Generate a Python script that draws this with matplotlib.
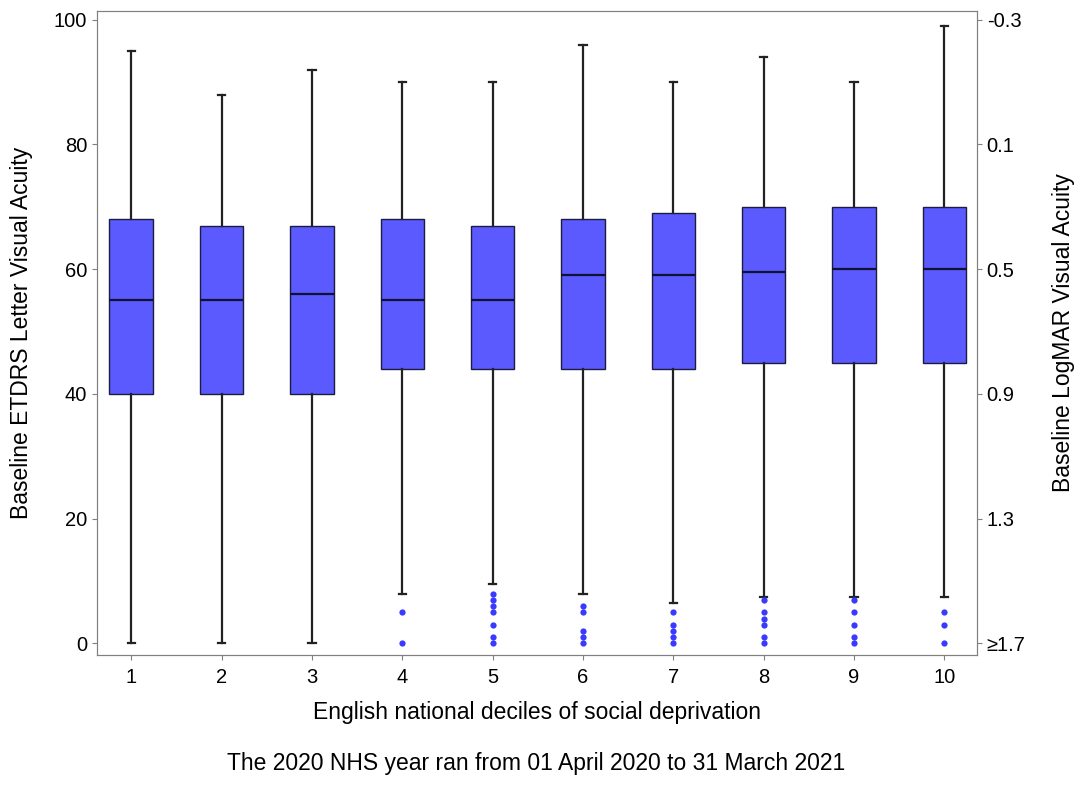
import matplotlib.pyplot as plt

plt.rcParams['font.family'] = ['Liberation Sans', 'DejaVu Sans']

# Box statistics per decile
deciles = [1, 2, 3, 4, 5, 6, 7, 8, 9, 10]
q1 = [40, 40, 40, 44, 44, 44, 44, 45, 45, 45]
med = [55, 55, 56, 55, 55, 59, 59, 59.5, 60, 60]
q3 = [68, 67, 67, 68, 67, 68, 69, 70, 70, 70]
whislo = [0, 0, 0, 8, 9.5, 8, 6.5, 7.5, 7.5, 7.5]
whishi = [95, 88, 92, 90, 90, 96, 90, 94, 90, 99]
fliers = [[], [], [],
          [0, 5],
          [0, 1, 3, 5, 6, 7, 8],
          [0, 1, 2, 5, 6],
          [0, 1, 2, 3, 5],
          [0, 1, 3, 4, 5, 7],
          [0, 1, 3, 5, 7],
          [0, 3, 5]]

right_ticks = [0, 20, 40, 60, 80, 100]
right_labels = ['≥1.7', '1.3', '0.9', '0.5', '0.1', '-0.3']

stats = []
for i in range(len(deciles)):
    stats.append(dict(med=med[i], q1=q1[i], q3=q3[i], whislo=whislo[i],
                      whishi=whishi[i], fliers=fliers[i]))

fig = plt.figure(figsize=(10.76, 7.85), dpi=100)
ax = fig.add_axes([0.090, 0.166, 0.818, 0.820])

ax.bxp(stats, positions=deciles, widths=0.48, patch_artist=True,
       capwidths=0.08,
       boxprops=dict(facecolor='#5A5AFF', edgecolor='#1c1c40', linewidth=1.0),
       medianprops=dict(color='#111133', linewidth=1.6),
       whiskerprops=dict(color='#222222', linewidth=1.6),
       capprops=dict(color='#222222', linewidth=1.6),
       flierprops=dict(marker='o', markersize=4.5, markerfacecolor='#3a3aff',
                       markeredgecolor='none'))

ax.set_xlim(0.62, 10.36)
ax.set_ylim(-1.8, 101.4)
ax.set_yticks([0, 20, 40, 60, 80, 100])
ax.set_xticks(deciles)
ax.set_xticklabels([str(d) for d in deciles])
for s in ax.spines.values():
    s.set_color('#808080')
ax.tick_params(labelsize=14.5, color='#808080', length=3.5)
ax.tick_params(axis='x', pad=6)
ax.set_xlabel('English national deciles of social deprivation', fontsize=16.5, labelpad=10)
ax.set_ylabel('Baseline ETDRS Letter Visual Acuity', fontsize=16.5, labelpad=15)

ax2 = ax.twinx()
ax2.set_ylim(ax.get_ylim())
ax2.set_yticks(right_ticks)
ax2.set_yticklabels(right_labels)
ax2.tick_params(labelsize=14.5, color='#808080', length=3.5)
for s in ax2.spines.values():
    s.set_color('#808080')
ax2.set_ylabel('Baseline LogMAR Visual Acuity', fontsize=16.5, rotation=90, labelpad=19)

fig.text(0.498, 0.019, 'The 2020 NHS year ran from 01 April 2020 to 31 March 2021',
         ha='center', fontsize=16.5)

fig.savefig('out.png', dpi=100)
